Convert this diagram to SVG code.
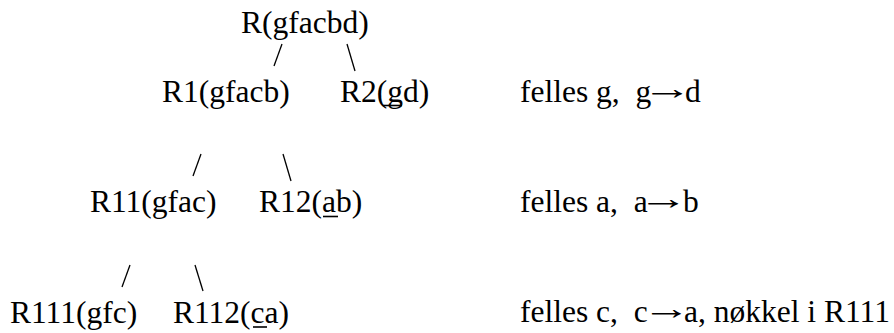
<svg xmlns="http://www.w3.org/2000/svg" width="894" height="333" viewBox="0 0 894 333">
<style>
text{font-family:"Liberation Serif","Times New Roman",serif;font-size:31.5px;fill:#000;white-space:pre}
.u{stroke:#000;stroke-width:1.6}
.c line{stroke:#000;stroke-width:1.3}
</style>
<rect width="894" height="333" fill="#fff"/>
<g id="R"><text x="241" y="33">R(gfacbd)</text></g>
<g id="R1"><text x="162" y="102">R1(gfacb)</text></g>
<g id="R2"><text x="340" y="102">R2(gd)</text><line class="u" x1="383" y1="105.5" x2="402" y2="105.5"/></g>
<g id="R11"><text x="90" y="212">R11(gfac)</text></g>
<g id="R12"><text x="259" y="212">R12(ab)</text><line class="u" x1="323" y1="216.5" x2="338" y2="216.5"/></g>
<g id="R111"><text x="10" y="323">R111(gfc)</text></g>
<g id="R112"><text x="173" y="323">R112(ca)</text><line class="u" x1="253" y1="327" x2="267" y2="327"/></g>
<g id="notes">
<text x="520" y="102">felles g,  g</text>
<text transform="translate(642,99) scale(1.6,1)">→</text>
<text x="685" y="102">d</text>
<text x="520" y="212">felles a,  a</text>
<text transform="translate(638,209) scale(1.6,1)">→</text>
<text x="683" y="212">b</text>
<text x="520" y="322">felles c,  c</text>
<text transform="translate(642,319) scale(1.55,1)">→</text>
<text x="684" y="322">a, nøkkel i R111</text>
</g>
<g class="c" id="connectors">
<line x1="282" y1="44" x2="274" y2="66"/>
<line x1="347" y1="44" x2="355" y2="71"/>
<line x1="201" y1="154" x2="193" y2="176"/>
<line x1="283" y1="154" x2="291" y2="181"/>
<line x1="130" y1="265" x2="122" y2="287"/>
<line x1="195" y1="265" x2="203" y2="291"/>
</g>
</svg>
